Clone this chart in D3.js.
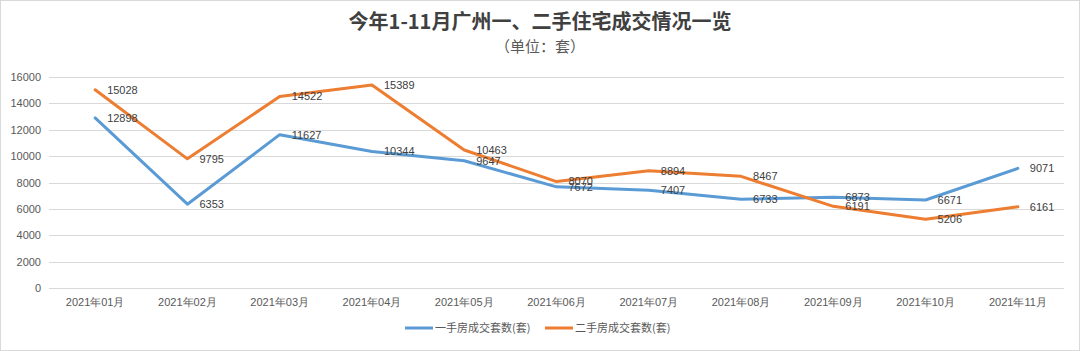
<!DOCTYPE html>
<html>
<head>
<meta charset="utf-8">
<script src="https://cdn.jsdelivr.net/npm/d3@7"></script>
<style>
  body { margin: 0; background: #fff; }
  svg { display: block; font-family: "Noto Sans CJK SC", "Noto Sans", sans-serif; }
</style>
</head>
<body>
<div id="chart"></div>
<script>
// categories and series
const months = ["2021年01月", "2021年02月", "2021年03月", "2021年04月", "2021年05月", "2021年06月",
                "2021年07月", "2021年08月", "2021年09月", "2021年10月", "2021年11月"];
const newHomes = [12898, 6353, 11627, 10344, 9647, 7672, 7407, 6733, 6873, 6671, 9071];
const resale = [15028, 9795, 14522, 15389, 10463, 8070, 8894, 8467, 6191, 5206, 6161];
const yTicks = [0, 2000, 4000, 6000, 8000, 10000, 12000, 14000, 16000];
const seriesNames = ["一手房成交套数(套)", "二手房成交套数(套)"];
const colors = ["#5b9bd5", "#ed7d31"];

const W = 1080, H = 351;
const svg = d3.select("#chart").append("svg")
    .attr("width", W).attr("height", H);

// outer frame
svg.append("rect")
    .attr("x", 0.5).attr("y", 0.5).attr("width", W - 1).attr("height", H - 1)
    .attr("fill", "#fff").attr("stroke", "#d9d9d9");

// titles
svg.append("text")
    .attr("x", 540).attr("y", 29)
    .attr("text-anchor", "middle")
    .attr("font-size", 20).attr("font-weight", "bold").attr("fill", "#404040")
    .text("今年1-11月广州一、二手住宅成交情况一览");
svg.append("text")
    .attr("x", 540).attr("y", 52)
    .attr("text-anchor", "middle")
    .attr("font-size", 15).attr("fill", "#595959")
    .text("（单位：套）");

// scales
const x = d3.scaleBand().domain(months).range([49, 1064]);
const y = d3.scaleLinear().domain([0, 16000]).range([288, 77]);
const cx = d => x(d) + x.bandwidth() / 2;

// gridlines
svg.append("g")
    .selectAll("line")
    .data(yTicks)
    .join("line")
    .attr("x1", 49).attr("x2", 1064)
    .attr("y1", d => Math.round(y(d)) + 0.5).attr("y2", d => Math.round(y(d)) + 0.5)
    .attr("stroke", "#d9d9d9");

// y axis labels
const yAxis = svg.append("g")
    .attr("transform", "translate(41,0)")
    .call(d3.axisLeft(y).tickValues(yTicks).tickFormat(d3.format("d")).tickSize(0).tickPadding(0));
yAxis.select(".domain").remove();
yAxis.selectAll("text").attr("font-size", 11).attr("fill", "#595959")
    .style("font-family", "'Liberation Sans', Arial, sans-serif");

// x axis labels
const xAxis = svg.append("g")
    .attr("transform", "translate(0,296)")
    .call(d3.axisBottom(x).tickSize(0).tickPadding(0));
xAxis.select(".domain").remove();
xAxis.selectAll("text").attr("font-size", 11).attr("fill", "#595959").attr("dy", "0.9em");

// lines
const series = [newHomes, resale];
const line = d3.line()
    .x((d, i) => cx(months[i]))
    .y(d => y(d));

series.forEach((vals, s) => {
    svg.append("path")
        .datum(vals)
        .attr("fill", "none")
        .attr("stroke", colors[s])
        .attr("stroke-width", 3)
        .attr("stroke-linejoin", "round")
        .attr("stroke-linecap", "round")
        .attr("d", line);
});

// data labels
series.forEach((vals, s) => {
    svg.append("g")
        .selectAll("text")
        .data(vals)
        .join("text")
        .attr("x", (d, i) => cx(months[i]) + 12)
        .attr("y", d => y(d))
        .attr("dy", "0.35em")
        .attr("font-size", 11)
        .attr("fill", "#404040")
        .style("font-family", "'Liberation Sans', Arial, sans-serif")
        .text(d => d);
});

// legend
const legend = svg.append("g").attr("transform", "translate(0,328)");
const legendX = [405, 545];
seriesNames.forEach((name, s) => {
    legend.append("line")
        .attr("x1", legendX[s]).attr("x2", legendX[s] + 28)
        .attr("y1", 0).attr("y2", 0)
        .attr("stroke", colors[s]).attr("stroke-width", 3);
    legend.append("text")
        .attr("x", legendX[s] + 30).attr("y", 0).attr("dy", "0.35em")
        .attr("font-size", 11).attr("fill", "#595959")
        .text(name);
});
</script>
</body>
</html>
